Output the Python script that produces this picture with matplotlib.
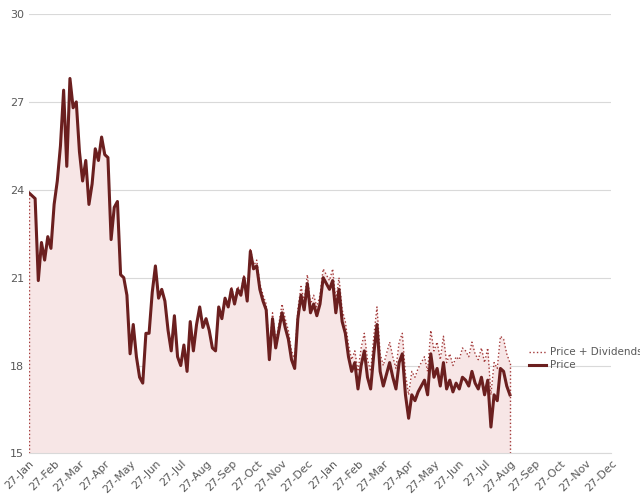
import matplotlib.pyplot as plt
import numpy as np

months = ["27-Jan", "27-Feb", "27-Mar", "27-Apr", "27-May", "27-Jun",
          "27-Jul", "27-Aug", "27-Sep", "27-Oct", "27-Nov", "27-Dec"] * 2

# price, 8 readings per month, starting 27-Jan
price = [
    23.9, 23.8, 23.7, 20.9, 22.2, 21.6, 22.4, 22.0,
    23.5, 24.3, 25.5, 27.4, 24.8, 27.8, 26.8, 27.0,
    25.3, 24.3, 25.0, 23.5, 24.2, 25.4, 25.0, 25.8,
    25.2, 25.1, 22.3, 23.4, 23.6, 21.1, 21.0, 20.4,
    18.4, 19.4, 18.3, 17.6, 17.4, 19.1, 19.1, 20.5,
    21.4, 20.3, 20.6, 20.2, 19.2, 18.5, 19.7, 18.3,
    18.0, 18.7, 17.8, 19.5, 18.5, 19.4, 20.0, 19.3,
    19.6, 19.2, 18.6, 18.5, 20.0, 19.6, 20.3, 20.0,
    20.6, 20.1, 20.6, 20.4, 21.0, 20.2, 21.9, 21.3,
    21.4, 20.6, 20.2, 19.9, 18.2, 19.6, 18.6, 19.2,
    19.8, 19.3, 18.9, 18.2, 17.9, 19.6, 20.4, 19.9,
    20.8, 19.8, 20.1, 19.7, 20.1, 21.0, 20.8, 20.6,
    20.9, 19.8, 20.6, 19.5, 19.1, 18.3, 17.8, 18.1,
    17.2, 18.0, 18.5, 17.6, 17.2, 18.4, 19.4, 17.8,
    17.3, 17.7, 18.1, 17.6, 17.2, 18.1, 18.4, 17.0,
    16.2, 17.0, 16.8, 17.1, 17.3, 17.5, 17.0, 18.4,
    17.6, 17.9, 17.3, 18.1, 17.2, 17.5, 17.1, 17.4,
    17.2, 17.6, 17.5, 17.3, 17.8, 17.4, 17.2, 17.6,
    17.0, 17.5, 15.9, 17.0, 16.8, 17.9, 17.8, 17.3,
    17.0,
]
# cumulative dividends per month
div_month = [0, 0, 0, 0, 0, 0, 0, 0, 0.1, 0.2, 0.3, 0.3, 0.4, 0.6, 0.7, 0.8, 0.9, 1.0, 1.1]
div_last = 1.1

price = np.array(price)
divs = np.append(np.repeat(div_month, 8), div_last)
total = price + divs
x = np.arange(len(price)) / 8

fig, ax = plt.subplots(figsize=(6.4, 5.01), dpi=100)
ax.fill_between(x, 15, total, color="#f7e6e6", lw=0)
ax.plot(x, total, color="#a33a3a", lw=1, ls=":", label="Price + Dividends")
ax.plot(x, price, color="#6b1f1f", lw=2.2, label="Price")
ax.vlines([x[0], x[-1]], 15, [total[0], total[-1]], color="#a33a3a", lw=1, ls=":")

ax.set_ylim(15, 30)
ax.set_yticks([15, 18, 21, 24, 27, 30])
ax.set_xlim(0, 23)
ax.set_xticks(range(24))
ax.set_xticklabels(months, rotation=45, ha="right", rotation_mode="anchor")
ax.tick_params(colors="#595959", labelsize=8, length=0)
ax.grid(axis="y", color="#d9d9d9", lw=0.8)
ax.set_axisbelow(True)
for s in ["top", "right", "left"]:
    ax.spines[s].set_visible(False)
ax.spines["bottom"].set_color("#d9d9d9")

fig.legend(loc="upper left", bbox_to_anchor=(0.82, 0.315), frameon=False,
           fontsize=7.5, labelcolor="#595959", handlelength=1.6,
           handletextpad=0.4, borderaxespad=0, labelspacing=0.3)
fig.subplots_adjust(left=0.045, right=0.955, top=0.972, bottom=0.095)
fig.savefig("out.png")
